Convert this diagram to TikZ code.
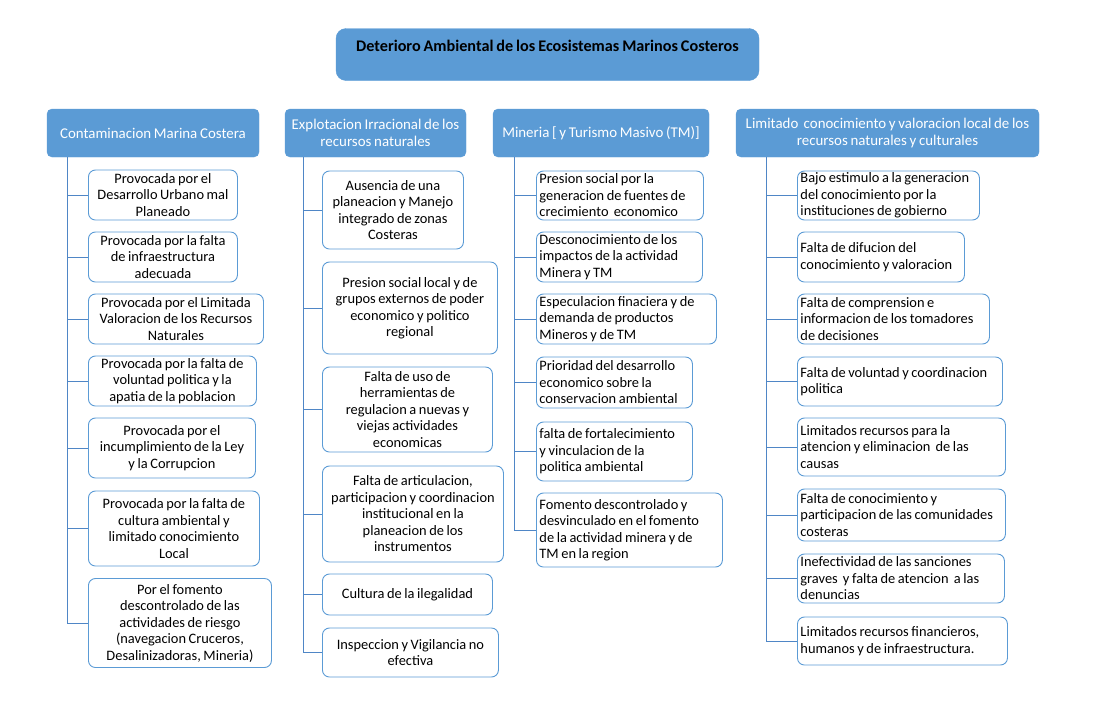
\documentclass[tikz,border=0pt]{standalone}
\usepackage{fontspec}
\setmainfont{Carlito}[WordSpace=0.8]
\usetikzlibrary{positioning}
\definecolor{boxblue}{HTML}{5B9BD5}
\definecolor{lineblue}{HTML}{4F86C6}
\tikzstyle{titlebox}=[draw=boxblue,fill=boxblue,rounded corners=10pt,font=\fontsize{16.2pt}{17pt}\selectfont\bfseries,align=center,minimum width=423pt,minimum height=52pt]
\tikzstyle{cat}=[draw=boxblue,fill=boxblue,rounded corners=5pt,text=white,align=center,minimum height=48pt,inner sep=2pt,font=\fontsize{14.9pt}{16.5pt}\selectfont]
\tikzstyle{cause}=[draw=boxblue,fill=white,rounded corners=7pt,anchor=west,inner xsep=3pt,inner ysep=1pt,line width=0.9pt,align=flush center]
\tikzstyle{causel}=[cause,align=flush left]
\tikzstyle{link}=[draw=lineblue,line width=1pt]

\begin{document}
\begin{tikzpicture}[x=1pt,y=-1pt,font=\fontsize{14.4pt}{16.5pt}\selectfont]
                  \useasboundingbox (0,0) rectangle (1095,715);

                  \node (title) at (547.5,54.5) [titlebox] {Deterioro Ambiental de los Ecosistemas Marinos Costeros\\[-5pt] \strut};

                  \node (cont) at (153,133) [cat,minimum width=212pt] {Contaminacion Marina Costera};
                  \node (expl) at (375.5,133) [cat,minimum width=181pt] {Explotacion Irracional de los\\recursos naturales};
                  \node (mine) at (601,133) [cat,minimum width=216pt] {Mineria [ y Turismo Masivo (TM)]};
                  \node (lim) at (887.5,133) [cat,minimum width=303pt] {Limitado\ \ conocimiento y valoracion local de los\\recursos naturales y culturales};

                  \coordinate (cont0) at ([xshift=21pt]cont.south west);
                  \coordinate (expl0) at ([xshift=19pt]expl.south west);
                  \coordinate (mine0) at ([xshift=22pt]mine.south west);
                  \coordinate (lim0) at ([xshift=31pt]lim.south west);

                  \node (cont1) at (88,195) [cause,text width=143pt,minimum height=50pt] {Provocada por el\\Desarrollo Urbano mal\\Planeado};
                  \node (cont2) at (88,257) [cause,text width=143pt,minimum height=50pt] {Provocada por la falta\\de infraestructura\\adecuada};
                  \node (cont3) at (88,319) [cause,text width=169pt,minimum height=50pt] {Provocada por el Limitada\\Valoracion de los Recursos\\Naturales};
                  \node (cont4) at (88,381) [cause,text width=162pt,minimum height=50pt] {Provocada por la falta de\\voluntad politica y la\\apatia de la poblacion};
                  \node (cont5) at (88,448) [cause,text width=161pt,minimum height=60pt] {Provocada por el\\incumplimiento de la Ley\\y la Corrupcion};
                  \node (cont6) at (88,528.5) [cause,text width=165pt,minimum height=75pt] {Provocada por la falta de\\cultura ambiental y\\limitado conocimiento\\Local};
                  \node (cont7) at (88,623) [cause,text width=177pt,minimum height=89pt] {Por el fomento\\descontrolado de las\\actividades de riesgo\\(navegacion Cruceros,\\Desalinizadoras, Mineria)};

                  \node (expl1) at (322,210) [cause,text width=135pt,minimum height=78pt] {Ausencia de una\\planeacion y Manejo\\integrado de zonas\\Costeras};
                  \node (expl2) at (322,308) [cause,text width=169pt,minimum height=92pt] {Presion social local y de\\grupos externos de poder\\economico y politico\\regional};
                  \node (expl3) at (322,409.5) [cause,text width=164pt,minimum height=85pt] {Falta de uso de\\herramientas de\\regulacion a nuevas y\\viejas actividades\\economicas};
                  \node (expl4) at (322,514) [cause,text width=175pt,minimum height=96pt] {Falta de articulacion,\\participacion y coordinacion\\institucional en la\\planeacion de los\\instrumentos};
                  \node (expl5) at (322,594.5) [cause,text width=164pt,minimum height=41pt] {Cultura de la ilegalidad};
                  \node (expl6) at (322,652.5) [cause,text width=170pt,minimum height=49pt] {Inspeccion y Vigilancia no\\efectiva};

                  \node (mine1) at (536,195.5) [causel,text width=161pt,minimum height=49pt] {Presion social por la\\generacion de fuentes de\\crecimiento\ \ economico};
                  \node (mine2) at (536,257) [causel,text width=160pt,minimum height=50pt] {Desconocimiento de los\\impactos de la actividad\\Minera y TM};
                  \node (mine3) at (536,319) [causel,text width=174pt,minimum height=50pt] {Especulacion finaciera y de\\demanda de productos\\Mineros y de TM};
                  \node (mine4) at (536,382.5) [causel,text width=150pt,minimum height=51pt] {Prioridad del desarrollo\\economico sobre la\\conservacion ambiental};
                  \node (mine5) at (536,451.5) [causel,text width=150pt,minimum height=59pt] {falta de fortalecimiento\\y vinculacion de la\\politica ambiental};
                  \node (mine6) at (536,530) [causel,text width=180pt,minimum height=74pt] {Fomento descontrolado y\\desvinculado en el fomento\\de la actividad minera y de\\TM en la region};

                  \node (lim1) at (797,195.5) [causel,text width=176pt,minimum height=49pt] {Bajo estimulo a la generacion\\del conocimiento por la\\instituciones de gobierno};
                  \node (lim2) at (797,257) [causel,text width=161pt,minimum height=50pt] {Falta de difucion del\\conocimiento y valoracion};
                  \node (lim3) at (797,319) [causel,text width=186pt,minimum height=50pt] {Falta de comprension e\\informacion de los tomadores\\de decisiones};
                  \node (lim4) at (797,381.5) [causel,text width=199pt,minimum height=49pt] {Falta de voluntad y coordinacion\\politica};
                  \node (lim5) at (797,447) [causel,text width=202pt,minimum height=58pt] {Limitados recursos para la\\atencion y eliminacion\ \ de las\\causas};
                  \node (lim6) at (797,515) [causel,text width=202pt,minimum height=52pt] {Falta de conocimiento y\\participacion de las comunidades\\costeras};
                  \node (lim7) at (797,578.5) [causel,text width=201pt,minimum height=49pt] {Inefectividad de las sanciones\\graves\ \ y falta de atencion\ \ a las\\denuncias};
                  \node (lim8) at (797,641) [causel,text width=204pt,minimum height=48pt] {Limitados recursos financieros,\\humanos y de infraestructura.};

                  \draw [link] (cont0) |- (cont1.west);
                  \draw [link] (cont0) |- (cont2.west);
                  \draw [link] (cont0) |- (cont3.west);
                  \draw [link] (cont0) |- (cont4.west);
                  \draw [link] (cont0) |- (cont5.west);
                  \draw [link] (cont0) |- (cont6.west);
                  \draw [link] (cont0) |- (cont7.west);

                  \draw [link] (expl0) |- (expl1.west);
                  \draw [link] (expl0) |- (expl2.west);
                  \draw [link] (expl0) |- (expl3.west);
                  \draw [link] (expl0) |- (expl4.west);
                  \draw [link] (expl0) |- (expl5.west);
                  \draw [link] (expl0) |- (expl6.west);

                  \draw [link] (mine0) |- (mine1.west);
                  \draw [link] (mine0) |- (mine2.west);
                  \draw [link] (mine0) |- (mine3.west);
                  \draw [link] (mine0) |- (mine4.west);
                  \draw [link] (mine0) |- (mine5.west);
                  \draw [link] (mine0) |- (mine6.west);

                  \draw [link] (lim0) |- (lim1.west);
                  \draw [link] (lim0) |- (lim2.west);
                  \draw [link] (lim0) |- (lim3.west);
                  \draw [link] (lim0) |- (lim4.west);
                  \draw [link] (lim0) |- (lim5.west);
                  \draw [link] (lim0) |- (lim6.west);
                  \draw [link] (lim0) |- (lim7.west);
                  \draw [link] (lim0) |- (lim8.west);
              \end{tikzpicture}
\end{document}
